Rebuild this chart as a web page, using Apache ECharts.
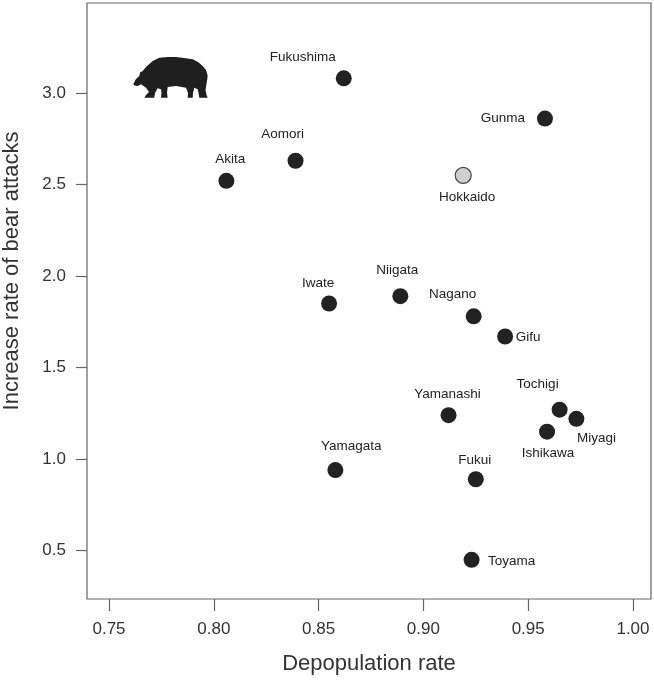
<!DOCTYPE html>
<html>
<head>
<meta charset="utf-8">
<title>Bear attacks vs depopulation</title>
<script src="https://cdn.jsdelivr.net/npm/echarts@6/dist/echarts.min.js"></script>
<style>
  html, body { margin: 0; padding: 0; background: #fff; }
  #chart { width: 654px; height: 680px; }
</style>
</head>
<body>
<div id="chart"></div>
<script>
// prefectures
var prefectures = ['Fukushima', 'Gunma', 'Aomori', 'Akita', 'Hokkaido', 'Iwate', 'Niigata', 'Nagano',
                   'Gifu', 'Yamanashi', 'Tochigi', 'Miyagi', 'Ishikawa', 'Yamagata', 'Fukui', 'Toyama'];
var depopulation = [0.862, 0.958, 0.839, 0.806, 0.919, 0.855, 0.889, 0.924,
                    0.939, 0.912, 0.965, 0.973, 0.959, 0.858, 0.925, 0.923];
var attackIncrease = [3.08, 2.86, 2.63, 2.52, 2.55, 1.85, 1.89, 1.78,
                      1.67, 1.24, 1.27, 1.22, 1.15, 0.94, 0.89, 0.45];
var xTicks = [0.75, 0.80, 0.85, 0.90, 0.95, 1.00];
var yTicks = [0.5, 1.0, 1.5, 2.0, 2.5, 3.0];
var highlighted = 'Hokkaido';

// where each name sits relative to its dot (px)
var labelOffsets = {
    Fukushima: [-41, -21], Gunma: [-42, 0], Aomori: [-13, -26], Akita: [4, -22],
    Hokkaido: [4, 22], Iwate: [-11, -20], Niigata: [-3, -26], Nagano: [-21, -22],
    Gifu: [23, 1], Yamanashi: [-1, -21], Tochigi: [-22, -25], Miyagi: [20, 19],
    Ishikawa: [1, 22], Yamagata: [16, -24], Fukui: [-1, -19], Toyama: [40, 1]
};

var FONT = '"Liberation Sans", Arial, Helvetica, sans-serif';

(function(){
    var points = [];
    for (var i = 0; i < prefectures.length; i++) {
        var name = prefectures[i];
        var item = {
            name: name,
            value: [depopulation[i], attackIncrease[i]],
            label: { offset: labelOffsets[name] || [0, -20] }
        };
        if (name === highlighted) {
            item.itemStyle = { color: '#cfcfcf', borderColor: '#444', borderWidth: 1.2 };
        }
        points.push(item);
    }

    // walking bear silhouette, facing left (decoration only)
    var bearOutline = [
        [1.3, 27], [4, 22], [7.3, 19], [8, 15.5], [10.7, 14], [14, 10], [20.7, 4], [27.3, 0.7],
        [36, 0], [44, 0], [52, 1], [60.7, 2.3], [66, 5], [70.7, 9], [74, 13], [75.7, 19],
        [74.5, 27], [73.5, 33], [74.5, 38], [75.7, 40.7], [67.3, 40.7], [66.5, 36], [65.7, 32.3],
        [62.3, 30.7], [61, 36], [60.7, 40.7], [55.7, 40.7], [56, 36], [54, 30.7], [44, 29],
        [35.7, 30], [35, 36], [35.7, 40.7], [29, 40.7], [29.5, 36], [29, 32.3], [25.7, 31.3],
        [23, 36], [22.3, 40.7], [12.3, 40.7], [14, 38], [17, 35], [14, 30.7], [9, 27.3],
        [5.7, 29], [2.3, 28.5]
    ];

    var chart = echarts.init(document.getElementById('chart'), null, { renderer: 'canvas' });
    chart.setOption({
        animation: false,
        backgroundColor: '#fff',
        grid: {
            left: 87, right: 3, top: 3, bottom: 80,
            show: true, borderColor: '#666', borderWidth: 1.2, backgroundColor: 'transparent'
        },
        xAxis: {
            type: 'value',
            min: 0.7395, max: 1.0086,
            name: 'Depopulation rate',
            nameLocation: 'middle',
            nameGap: 54,
            nameTextStyle: { fontFamily: FONT, fontSize: 22, color: '#333' },
            axisLine: { show: false },
            axisTick: { show: true, length: 12, customValues: xTicks, lineStyle: { color: '#666', width: 1.2 } },
            axisLabel: {
                customValues: xTicks, margin: 22, fontFamily: FONT, fontSize: 17, color: '#333',
                formatter: function(v){ return v.toFixed(2); }
            },
            splitLine: { show: false }
        },
        yAxis: {
            type: 'value',
            min: 0.236, max: 3.4915,
            axisLine: { show: false },
            axisTick: { show: true, length: 11, customValues: yTicks, lineStyle: { color: '#666', width: 1.2 } },
            axisLabel: {
                customValues: yTicks, margin: 21, fontFamily: FONT, fontSize: 17, color: '#333',
                formatter: function(v){ return v.toFixed(1); }
            },
            splitLine: { show: false }
        },
        graphic: [
            {
                type: 'text',
                x: 12, y: 271,
                rotation: Math.PI / 2,
                style: {
                    text: 'Increase rate of bear attacks', fill: '#333',
                    font: '22px ' + FONT, textAlign: 'center', textVerticalAlign: 'middle'
                }
            },
            {
                type: 'polygon', x: 132, y: 57,
                shape: { points: bearOutline },
                style: { fill: '#1f1f1f' }
            }
        ],
        series: [{
            type: 'scatter',
            symbol: 'circle',
            symbolSize: 16,
            itemStyle: { color: '#222', opacity: 1 },
            label: {
                show: true, position: 'inside',
                formatter: '{b}', fontFamily: FONT, fontSize: 13.5, color: '#222'
            },
            emphasis: { disabled: true },
            data: points
        }]
    });
})();
</script>
</body>
</html>
